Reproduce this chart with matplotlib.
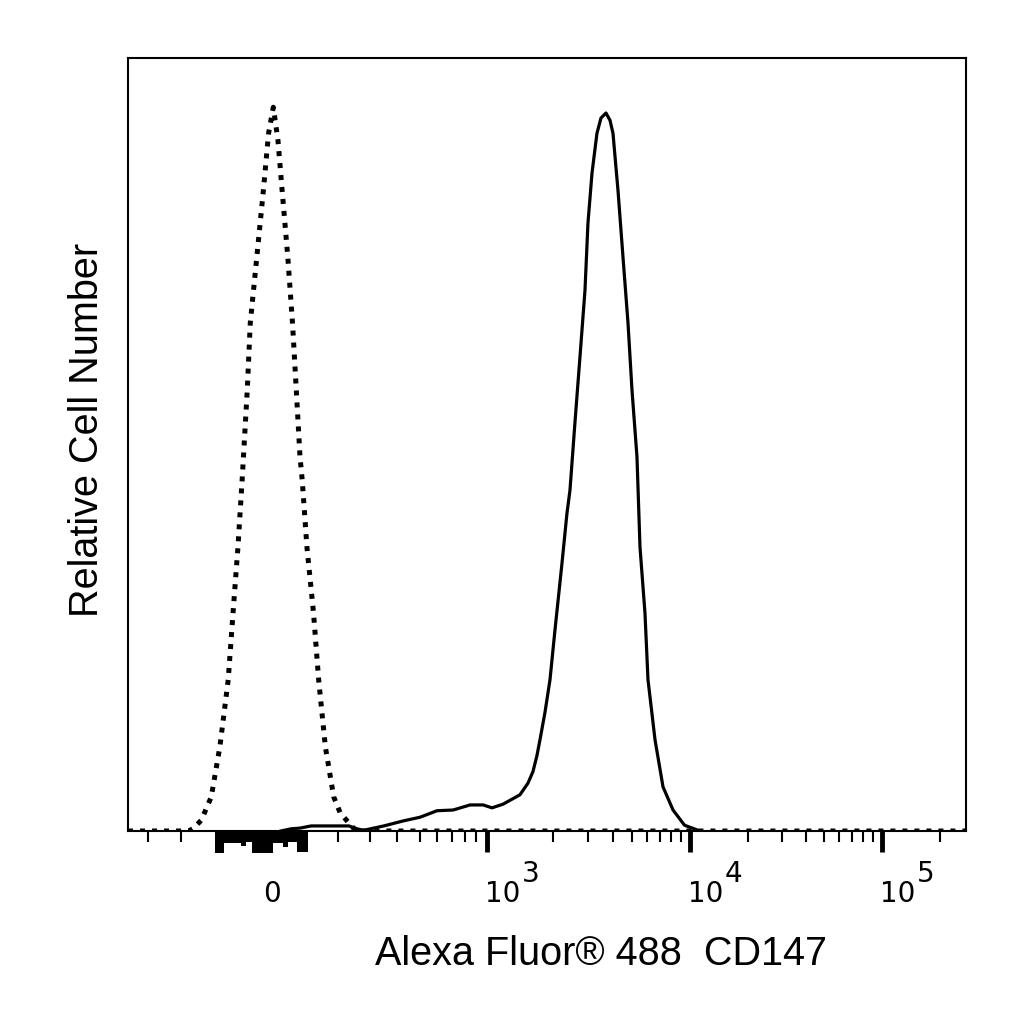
import numpy as np
import matplotlib
matplotlib.use("Agg")
import matplotlib.pyplot as plt
import matplotlib.transforms as mtransforms

plt.rcParams['font.family'] = ['Liberation Sans', 'DejaVu Sans']

# isotype control (dotted) - fluorescence vs relative count (% of max)
control_x = [-360, -176, -162, -141, -116, -95, -73, -61, -49, -39, -27, -20, -5, 10, 22,
             33, 44, 54, 68, 80, 90, 100, 105, 116, 132, 145, 163, 187, 206, 231, 253, 275000]
control_y = [0, 0, 0.4, 1.5, 4.7, 11.6, 20.9, 30.1, 39.2, 48.5, 60.9, 70.2, 79.3, 88.5, 96.4,
             100, 95.4, 88.5, 79.3, 70.2, 60.9, 51.7, 48.5, 39.2, 30.1, 20.9, 11.6, 4.7, 2.5, 1.1, 0, 0]

# CD147 stained (solid)
stain_x = [51, 76, 100, 126, 231, 256, 278, 348, 426, 500, 600, 708, 845, 964, 1054,
           1183, 1414, 1538, 1621, 1690, 1745, 1839, 1938, 2047, 2220, 2352, 2436, 2580,
           2735, 2899, 3001, 3145, 3331, 3489, 3698, 3874, 4011, 4251, 4504, 4773, 5000,
           5306, 5502, 5839, 6053, 6584, 7243, 8164, 9364, 11276]
stain_y = [0, 0.3, 0.4, 0.7, 0.7, 0.3, 0.1, 0.7, 1.4, 1.9, 2.8, 2.9, 3.6, 3.6, 3.2,
           3.7, 5.0, 6.6, 8.2, 10.4, 12.6, 16.4, 20.9, 27.8, 37.0, 43.9, 47.1, 56.4,
           65.5, 74.7, 84.0, 90.9, 96.4, 98.5, 99.2, 98.2, 96.4, 88.5, 79.3, 70.2, 60.9,
           51.7, 39.2, 30.1, 20.9, 12.6, 6.1, 2.9, 0.8, 0]

# piled-up events drawn below the axis near zero
rug_left = [-108, -83, -59, -41, -29, -17, 32, 56, 68, 93]
rug_right = [-83, -59, -41, -29, -17, 32, 56, 68, 93, 118]
rug_depth = [3.0, 1.7, 1.7, 2.1, 1.5, 3.0, 1.7, 2.2, 1.5, 2.9]

major_ticks = [0, 1e3, 1e4, 1e5]
major_labels = ['0', '3', '4', '5']
minor_ticks = [-300, -200, -100, 100, 200, 300, 400, 500, 600, 700, 800, 900,
               2000, 3000, 4000, 5000, 6000, 7000, 8000, 9000,
               20000, 30000, 40000, 50000, 60000, 70000, 80000, 90000, 200000]

# biexponential-like display scale (calibrated to the cytometer axis)
knot_vals = np.array([-5000, -360, -300, -200, -100, 0, 100, 200, 300, 400, 500, 600,
                      700, 800, 900, 1e3, 2e3, 5e3, 1e4, 1e5, 2.75e5, 1e7])
knot_pos = np.array([-300, 128, 148, 181, 218, 259, 300, 338, 370, 397, 420, 437,
                     452, 465, 476, 487, 553, 632, 690, 882, 966, 1266], float)
knot_z = np.arcsinh(knot_vals / 150.0)


def fwd(x):
    return np.interp(np.arcsinh(np.asarray(x, float) / 150.0), knot_z, knot_pos)


def inv(p):
    return 150.0 * np.sinh(np.interp(np.asarray(p, float), knot_pos, knot_z))


fig = plt.figure(figsize=(10.24, 10.24), dpi=100)
ax = fig.add_axes([128 / 1024, 193 / 1024, 838 / 1024, 773 / 1024])
ax.set_xscale('function', functions=(fwd, inv))
ax.set_xlim(-360, 2.75e5)
ax.set_ylim(0, 106.8)

ax.plot(control_x, control_y, color='black', lw=3.6, linestyle=(0, (1, 1.4)),
        dash_capstyle='butt')
ax.plot(stain_x, stain_y, color='black', lw=2.3, solid_joinstyle='round')

widths = [r - l for l, r in zip(rug_left, rug_right)]
ax.bar(rug_left, [-d for d in rug_depth], width=widths, align='edge', bottom=0,
       color='black', linewidth=0, clip_on=False)

for s in ax.spines.values():
    s.set_linewidth(1.5)

ax.set_xticks(major_ticks)
ax.set_xticks(minor_ticks, minor=True)
ax.tick_params(axis='x', which='major', direction='out', length=15, width=3.5,
               labelbottom=False)
ax.tick_params(axis='x', which='minor', direction='out', length=8, width=1.5)
ax.tick_params(axis='y', left=False, labelleft=False)

trans = mtransforms.blended_transform_factory(ax.transData, ax.transAxes)
tick_font = dict(family='DejaVu Sans', fontsize=20)
for t, lab in zip(major_ticks, major_labels):
    if t == 0:
        ax.annotate(lab, xy=(t, 0), xycoords=trans, xytext=(13, -71),
                    textcoords='offset pixels', ha='center', va='baseline', **tick_font)
    else:
        ax.annotate('10', xy=(t, 0), xycoords=trans, xytext=(-2, -71),
                    textcoords='offset pixels', ha='left', va='baseline', **tick_font)
        ax.annotate(lab, xy=(t, 0), xycoords=trans, xytext=(35, -51),
                    textcoords='offset pixels', ha='left', va='baseline', **tick_font)

fig.text(601 / 1024, (1024 - 965) / 1024, 'Alexa Fluor® 488  CD147',
         ha='center', va='baseline', fontsize=28.5)
fig.text(98 / 1024, (1024 - 430) / 1024, 'Relative Cell Number', rotation=90,
         rotation_mode='anchor', ha='center', va='baseline', fontsize=28.5)

fig.savefig('out.png', dpi=100)
